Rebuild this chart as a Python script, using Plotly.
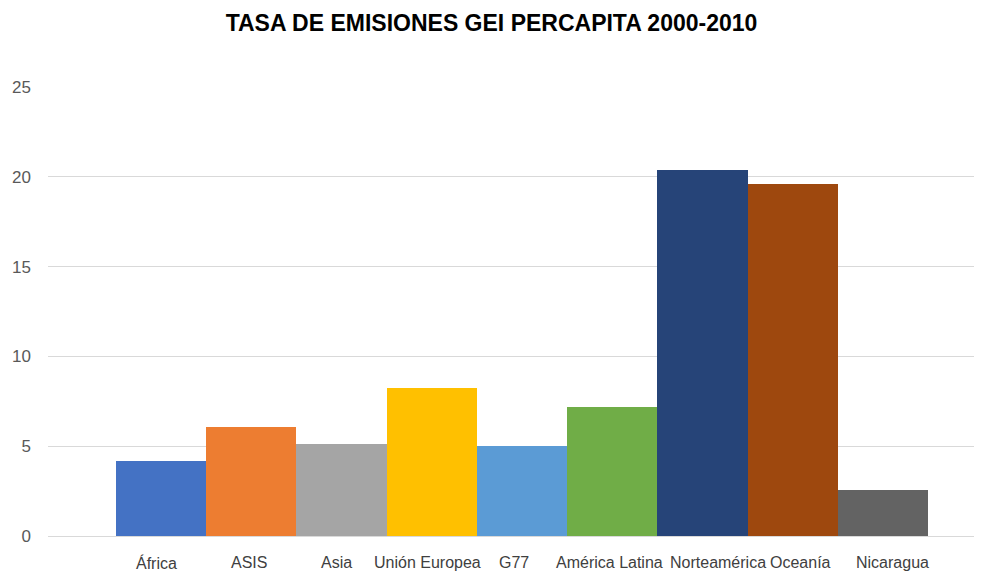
import plotly.graph_objects as go

categories = ["África", "ASIS", "Asia", "Unión Europea", "G77", "América Latina",
              "Norteamérica", "Oceanía", "Nicaragua"]
values = [4.18, 6.07, 5.14, 8.23, 4.99, 7.16, 20.40, 19.62, 2.54]
colors = ["#4472C4", "#ED7D31", "#A5A5A5", "#FFC000", "#5B9BD5", "#70AD47",
          "#264478", "#9E480E", "#636363"]
y_ticks = [0, 5, 10, 15, 20, 25]
# horizontal nudges of the category labels (px), as laid out in the original
label_nudge = [-5, -2, -5, -4, -8, -3, 16, 8, 10]

# the page body adds an 8px offset; compensate so the chart fills 982x572
W, H, OFF = 974, 564, 8

fig = go.Figure(go.Bar(
    x=categories, y=values,
    marker=dict(color=colors, line=dict(width=0)),
    hoverinfo="x+y",
))

for cat, dx in zip(categories, label_nudge):
    fig.add_annotation(x=cat, y=0, xref="x", yref="y", text=cat,
                       showarrow=False, xanchor="center", yanchor="middle",
                       xshift=dx, yshift=-26.5,
                       font=dict(size=16, color="#404040"))

fig.update_layout(
    width=W, height=H,
    margin=dict(l=48 - OFF, r=0, t=87 - OFF, b=35.5, autoexpand=False),
    paper_bgcolor="white", plot_bgcolor="white",
    bargap=0,
    showlegend=False,
    font=dict(family="Liberation Sans, Arial, sans-serif"),
    title=dict(text="<b>TASA DE EMISIONES GEI PERCAPITA 2000-2010</b>",
               x=(491.5 - OFF) / W, xanchor="center", xref="container",
               y=1 - (23 - OFF) / H, yanchor="middle", yref="container",
               font=dict(size=23, color="#000000")),
    xaxis=dict(type="category", range=[-1.254, 9.099], showgrid=False,
               showline=False, zeroline=False, ticks="", showticklabels=False,
               automargin=False, fixedrange=True),
    yaxis=dict(range=[0, 25], tickvals=y_ticks, showgrid=True,
               gridcolor="#D9D9D9", gridwidth=1, zeroline=True,
               zerolinecolor="#D9D9D9", zerolinewidth=1, showline=False,
               ticks="", ticklabelstandoff=16, automargin=False,
               tickfont=dict(size=17, color="#595959"), fixedrange=True),
)

fig.write_html("out.html")
